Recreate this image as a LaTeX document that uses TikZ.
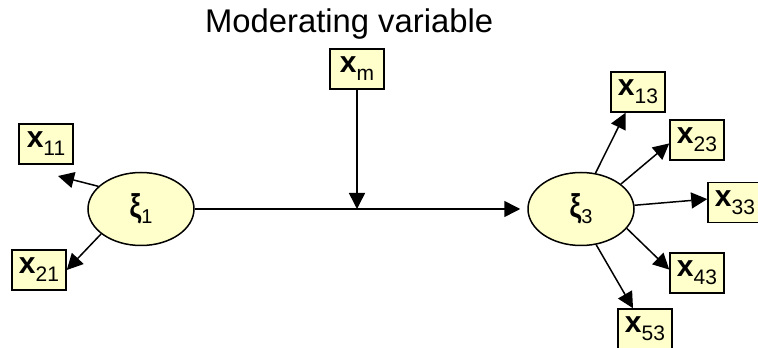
\documentclass[tikz,border=0pt]{standalone}
\usepackage{fontspec}
\setmainfont{Liberation Sans}
\usetikzlibrary{arrows.meta, shapes.geometric}

\definecolor{paleyellow}{RGB}{255,255,204}

% indicator and latent labels
\newcommand\ind[1]{{\fontsize{30}{30}\selectfont\bfseries x}{\fontsize{21}{21}\selectfont\raisebox{-8pt}{#1}}}
\newcommand\lat[1]{{\fontsize{33}{33}\selectfont\bfseries\scalebox{0.8}[1]{ξ}}{\fontsize{20}{20}\selectfont\raisebox{-6pt}{#1}}}

\begin{document}
\begin{tikzpicture}[
    x=1pt, y=1pt,
    >={Triangle[length=16pt, width=16pt]},
    every path/.style={line width=1.5pt},
    obsbox/.style={rectangle, draw, fill=paleyellow, minimum width=54pt, minimum height=40pt, inner sep=0pt},
    latent/.style={ellipse, draw, fill=paleyellow, minimum width=106pt, minimum height=73pt, inner sep=0pt}
  ]
    \useasboundingbox (0,0) rectangle (758,348);

    \node[anchor=base west, font=\fontsize{32.8}{33}\selectfont] (title) at (201,315) {Moderating variable};

    \node[obsbox] (xm) at (357,279) {\ind{m}};

    \node[latent] (xi1) at (141,139) {\lat{1}};
    \node[obsbox] (x11) at (46,204) {\ind{11}};
    \node[obsbox] (x21) at (39,78) {\ind{21}};

    \node[latent] (xi3) at (581,139) {\lat{3}};
    \node[obsbox] (x13) at (638,256) {\ind{13}};
    \node[obsbox] (x23) at (697,208) {\ind{23}};
    \node[obsbox] (x33) at (735,145.5) {\ind{33}};
    \node[obsbox] (x43) at (697,75) {\ind{43}};
    \node[obsbox] (x53) at (645,19) {\ind{53}};

    \coordinate (x11tip) at (58,172);

    % structural path with the moderator
    \draw[->, shorten >=7pt] (xi1.east) -- (xi3.west);
    \draw[->] (xm.south) -- (xm.south |- xi1.east);

    % loadings
    \draw[->] (xi1.152) -- (x11tip);
    \draw[->] (xi1.212) -- (x21.east);
    \draw[->] (xi3.68) -- (x13.-121);
    \draw[->] (xi3.32) -- (x23.187);
    \draw[->] (xi3.4) -- (x33.173);
    \draw[->] (xi3.-23) -- (x43.173);
    \draw[->] (xi3.-67) -- (x53.120);
  \end{tikzpicture}
\end{document}
